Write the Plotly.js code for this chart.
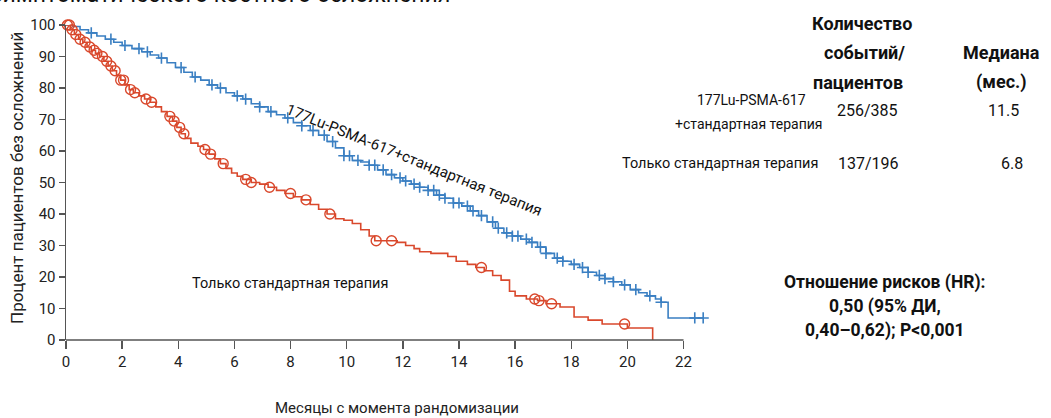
<!DOCTYPE html>
<html>
<head>
<meta charset="utf-8">
<script src="https://cdn.plot.ly/plotly-3.0.1.min.js"></script>
<style>html,body{margin:0;padding:0;background:#fff;}#chart{width:1051px;height:418px;}</style>
</head>
<body>
<div id="chart"></div>
<script>
// ---- Data ----
const luTime = [0,0.25,0.5,0.8,1.1,1.4,1.7,2.0,2.35,2.7,3.0,3.3,3.6,3.9,4.2,4.5,4.8,5.1,5.4,5.7,6.0,6.3,6.6,6.9,7.2,7.5,7.8,8.1,8.4,8.7,9.0,9.3,9.6,9.9,10.2,10.5,10.8,11.1,11.4,11.7,12.0,12.3,12.6,12.9,13.2,13.5,13.8,14.1,14.4,14.7,15.0,15.3,15.6,15.9,16.2,16.5,16.8,17.1,17.4,17.7,18.0,18.3,18.6,18.9,19.2,19.5,19.8,20.1,20.4,20.7,21.0,21.2,21.45,22.7];
const luSurv = [100,99.5,98.5,97.5,96.5,95.5,94.5,93.5,92.5,91.5,90.5,89.5,88,86.5,85,83.5,82.5,81,80,78.5,77.5,76.5,75,74,72.5,71.5,70.5,69,68,66.5,65,63,61,58.5,57,56.5,55.5,54,52.5,51.5,50.5,49.5,48.5,47.5,46,45,43.5,42.5,41,39.5,37.5,35.5,34,33,32,31,29.5,27.5,26,25,24,23,21.5,20.5,19.5,18.5,17.5,16,15,14,13,12,7,7];
const luCensor = [0.9,1.6,2.1,2.6,2.9,3.4,4.1,4.6,5.2,5.5,6.1,6.4,6.9,7.3,7.9,8.4,8.8,9.2,9.5,9.9,10.1,10.4,10.8,11.0,11.3,11.6,11.9,12.1,12.4,12.6,12.9,13.1,13.3,13.5,13.8,14.0,14.3,14.5,14.8,15.2,15.4,15.7,15.9,16.1,16.4,16.6,16.9,17.1,17.5,17.7,18.1,18.4,18.6,19.0,19.2,19.5,19.9,20.3,20.8,21.2,22.4,22.7];

const socTime = [0,0.15,0.3,0.45,0.6,0.75,0.9,1.05,1.2,1.35,1.5,1.65,1.8,1.95,2.1,2.25,2.4,2.6,2.8,3.0,3.2,3.4,3.6,3.8,3.95,4.1,4.25,4.45,4.7,4.9,5.1,5.3,5.5,5.7,5.9,6.1,6.3,6.6,6.9,7.2,7.5,7.8,8.1,8.4,8.7,9.0,9.3,9.6,9.9,10.2,10.5,10.8,11.0,11.8,12.1,12.4,12.6,13.0,13.6,13.9,14.3,14.6,14.9,15.2,15.5,15.8,16.0,16.4,16.8,17.1,17.6,18.1,18.6,19.1,20.0,20.9,20.9];
const socSurv = [100,98.5,97,95.5,94.5,93,92,91,90,88.5,87,85.5,84,82.5,81,79.5,78.5,77.5,76.5,75.5,74,72.5,71,69.5,67.5,65.5,64,62.5,61.5,60.5,59,57.5,56,54.5,53,52,51,50,49.5,48.5,47.5,46.5,45.5,44.5,43,41.5,40,38.5,38,37,35,33,31.5,31,30,29,28,27.5,26.5,25,24,23,22,20.5,19,15.5,14,13,12.5,11.5,10.5,7.3,6.3,5.1,3.8,1.9,0];
const socCensor = [0.05,0.12,0.22,0.35,0.5,0.68,0.85,1.0,1.1,1.3,1.45,1.6,1.75,1.95,2.05,2.3,2.45,2.85,3.05,3.7,3.85,4.05,4.2,4.95,5.15,5.6,6.4,6.6,7.25,8.0,8.55,9.4,11.05,11.6,14.8,16.7,16.85,17.3,19.9];

const xTicks = [0,2,4,6,8,10,12,14,16,18,20,22];
const yTicks = [0,10,20,30,40,50,60,70,80,90,100];

// ---- Helpers ----
function survAt(t, ts, ss){ let v = ss[0]; for(let i=0;i<ts.length;i++){ if(ts[i] <= t) v = ss[i]; } return v; }

const BLUE = '#3a7fc2', RED = '#d9482c';
const FONT = 'Roboto, "Noto Sans", sans-serif';

const traces = [
  {x: luTime, y: luSurv, mode:'lines', line:{shape:'hv', color:BLUE, width:1.6}, hoverinfo:'skip', showlegend:false},
  {x: socTime, y: socSurv, mode:'lines', line:{shape:'hv', color:RED, width:1.6}, hoverinfo:'skip', showlegend:false},
  {x: luCensor, y: luCensor.map(t => survAt(t, luTime, luSurv)), mode:'markers', cliponaxis:false,
   marker:{symbol:'cross-thin', size:8, line:{color:BLUE, width:1.6}}, showlegend:false},
  {x: socCensor, y: socCensor.map(t => survAt(t, socTime, socSurv)), mode:'markers', cliponaxis:false,
   marker:{symbol:'circle-open', size:10, color:RED, line:{color:RED, width:1.4}}, showlegend:false}
];

// pixel -> paper helpers (plot area: x 66..706, y 25..340)
const L = 66, R = 706, T = 25, B = 340;
const px = p => (p - L) / (R - L);
const py = p => (B - p) / (B - T);
function ann(text, x, y, size, opts){
  return Object.assign({text:text, xref:'paper', yref:'paper', x:px(x), y:py(y), showarrow:false,
    xanchor:'center', yanchor:'middle', font:{family:FONT, size:size, color:'#111'}}, opts||{});
}

const annotations = [
  ann('Время до первого симптоматического костного осложнения', 452, 10, 23, {xanchor:'right', yanchor:'bottom'}),
  ann('Процент пациентов без осложнений', 17, 178, 17, {textangle:-90, font:{family:FONT, size:17, color:'#222'}}),
  ann('Месяцы с момента рандомизации', 397, 408, 15, {font:{family:FONT, size:15, color:'#222'}}),
  ann('177Lu-PSMA-617+стандартная терапия', 414, 160, 15, {textangle:22}),
  ann('Только стандартная терапия', 290, 283, 14.5),
  ann('<b>Количество</b>', 862, 23, 18),
  ann('<b>событий/</b>', 864, 52, 18),
  ann('<b>пациентов</b>', 858, 82, 18),
  ann('<b>Медиана</b>', 1001, 52, 18),
  ann('<b>(мес.)</b>', 1001, 82, 18),
  ann('177Lu-PSMA-617', 751, 100, 14),
  ann('+стандартная терапия', 748, 124, 14),
  ann('256/385', 867, 110, 16),
  ann('11.5', 1003, 110, 16),
  ann('Только стандартная терапия', 720, 163, 14.5),
  ann('137/196', 868, 163, 16),
  ann('6.8', 1012, 163, 16),
  ann('<b>Отношение рисков (HR):</b>', 885, 282, 17.5),
  ann('<b>0,50 (95% ДИ,</b>', 885, 306, 17.5),
  ann('<b>0,40–0,62); P<0,001</b>', 885, 330, 17.5)
];

const layout = {
  width:1051, height:418,
  margin:{l:L, r:1051-R, t:T, b:418-B, pad:0},
  paper_bgcolor:'#fff', plot_bgcolor:'#fff',
  showlegend:false,
  font:{family:FONT, color:'#222'},
  xaxis:{range:[0,22.8], tickmode:'array', tickvals:xTicks, ticktext:xTicks.map(String),
    ticks:'outside', ticklen:8, tickwidth:1.5, tickcolor:'#555',
    showline:false, zeroline:false, showgrid:false,
    tickfont:{family:FONT, size:15, color:'#222'}},
  yaxis:{range:[0,100], tickmode:'array', tickvals:yTicks, ticktext:yTicks.map(String),
    ticks:'outside', ticklen:6, tickwidth:1.5, tickcolor:'#555',
    showline:true, linecolor:'#555', linewidth:1.5, zeroline:false, showgrid:false,
    tickfont:{family:FONT, size:15, color:'#222'}},
  shapes:[{type:'line', xref:'x', yref:'paper', x0:0, x1:22, y0:0, y1:0, line:{color:'#555', width:1.5}}],
  annotations:annotations
};

Plotly.newPlot('chart', traces, layout, {staticPlot:true, displayModeBar:false});
</script>
</body>
</html>
